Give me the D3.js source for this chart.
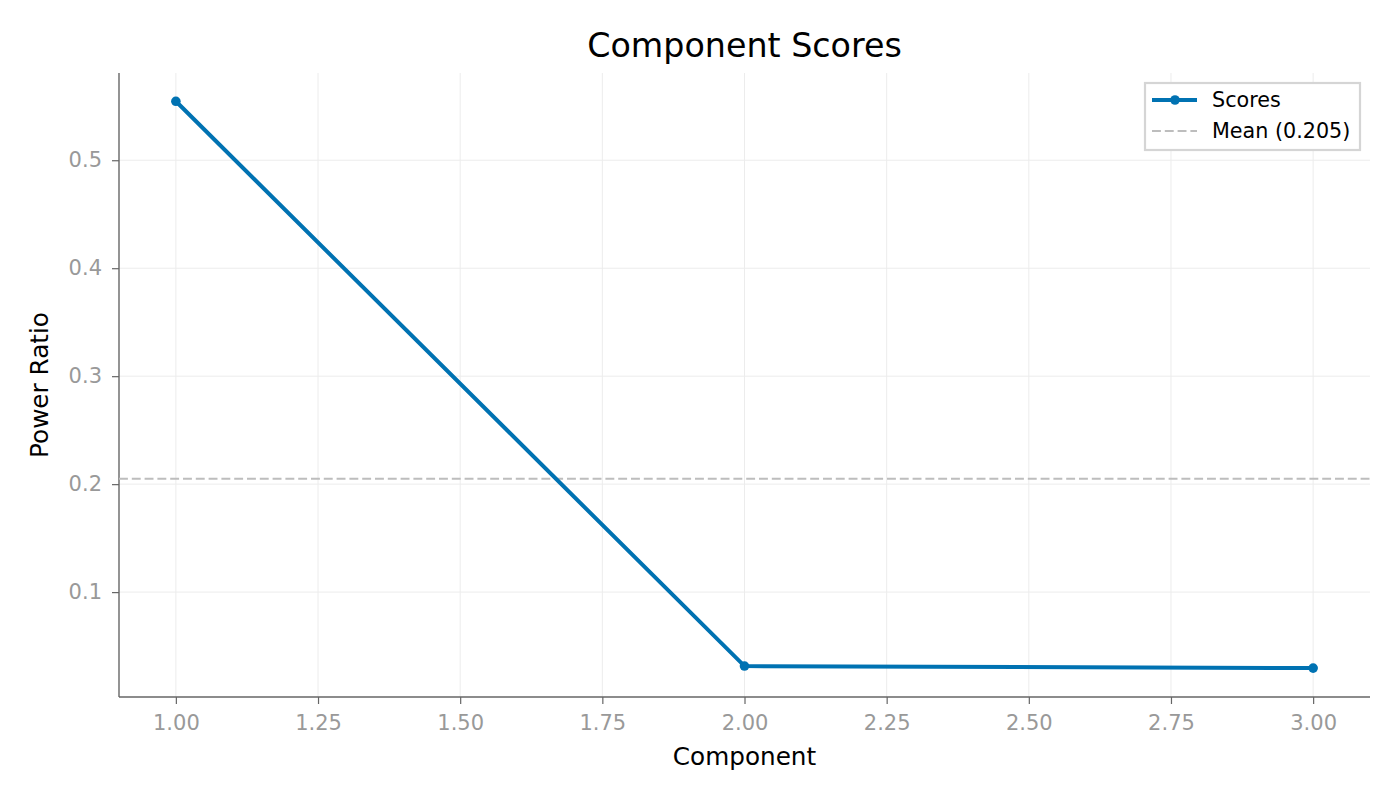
<!DOCTYPE html>
<html lang="en">
<head>
    <meta charset="UTF-8">
    <script src="https://cdn.jsdelivr.net/npm/d3@7"></script>
    <title>Component Scores</title>
    <style>
        body { margin: 0; background: white; }
        text { font-family: "DejaVu Sans", sans-serif; }
        .tick text { fill: #999; font-size: 21px; font-family: "DejaVu Sans", sans-serif; }
        .tick line { stroke: #666; stroke-width: 1.2px; }
        .domain { stroke: #666; stroke-width: 1.4px; }
        .grid line { stroke: #ececec; stroke-width: 1px; }
    </style>
</head>
<body>
    <div class="fig"></div>
    <script>
        // data
        const components = [1, 2, 3];
        const scores = [0.5546, 0.0315, 0.0296];
        const meanValue = 0.205;
        const xTicks = [1.00, 1.25, 1.50, 1.75, 2.00, 2.25, 2.50, 2.75, 3.00];
        const yTicks = [0.1, 0.2, 0.3, 0.4, 0.5];
        const legendLabels = ["Scores", "Mean (0.205)"];

        const width = 1400, height = 800;
        const margin = { top: 73, right: 30, bottom: 103, left: 119 };
        const blue = "#0072B2";

        const svg = d3.select(".fig").append("svg")
            .attr("width", width)
            .attr("height", height);

        const x = d3.scaleLinear()
            .domain([0.9, 3.1])
            .range([margin.left, width - margin.right]);

        const y = d3.scaleLinear()
            .domain([0.00285, 0.5808])
            .range([height - margin.bottom, margin.top]);

        // grid
        const grid = svg.append("g").attr("class", "grid");
        grid.selectAll(".gx").data(xTicks).enter().append("line")
            .attr("x1", d => x(d)).attr("x2", d => x(d))
            .attr("y1", margin.top).attr("y2", height - margin.bottom);
        grid.selectAll(".gy").data(yTicks).enter().append("line")
            .attr("x1", margin.left).attr("x2", width - margin.right)
            .attr("y1", d => y(d)).attr("y2", d => y(d));

        // axes
        svg.append("g")
            .attr("transform", `translate(0,${height - margin.bottom})`)
            .call(d3.axisBottom(x).tickValues(xTicks).tickFormat(d3.format(".2f")).tickSize(7).tickPadding(11))
            .call(g => g.select(".domain").attr("d", `M${margin.left},0H${width - margin.right}`));

        svg.append("g")
            .attr("transform", `translate(${margin.left},0)`)
            .call(d3.axisLeft(y).tickValues(yTicks).tickFormat(d3.format(".1f")).tickSize(7).tickPadding(10))
            .call(g => g.select(".domain").attr("d", `M0,${margin.top}V${height - margin.bottom}`));

        // mean line
        svg.append("line")
            .attr("x1", margin.left).attr("x2", width - margin.right)
            .attr("y1", y(meanValue)).attr("y2", y(meanValue))
            .attr("stroke", "#bdbdbd")
            .attr("stroke-width", 2.2)
            .attr("stroke-dasharray", "8.9,3.9");

        // score line
        const line = d3.line()
            .x((d, i) => x(components[i]))
            .y(d => y(d));

        svg.append("path")
            .datum(scores)
            .attr("d", line)
            .attr("fill", "none")
            .attr("stroke", blue)
            .attr("stroke-width", 4);

        svg.selectAll(".pt")
            .data(scores)
            .enter()
            .append("circle")
            .attr("cx", (d, i) => x(components[i]))
            .attr("cy", d => y(d))
            .attr("r", 4.8)
            .attr("fill", blue);

        // title and labels
        svg.append("text")
            .attr("x", (margin.left + width - margin.right) / 2)
            .attr("y", 57)
            .attr("text-anchor", "middle")
            .style("font-size", "33.3px")
            .text("Component Scores");

        svg.append("text")
            .attr("x", (margin.left + width - margin.right) / 2)
            .attr("y", 765)
            .attr("text-anchor", "middle")
            .style("font-size", "24.7px")
            .text("Component");

        svg.append("text")
            .attr("transform", `translate(48,${(margin.top + height - margin.bottom) / 2}) rotate(-90)`)
            .attr("text-anchor", "middle")
            .style("font-size", "24.7px")
            .text("Power Ratio");

        // legend
        const lg = svg.append("g").attr("transform", "translate(1145,83)");
        lg.append("rect")
            .attr("width", 215).attr("height", 67)
            .attr("fill", "white")
            .attr("stroke", "#d5d5d5")
            .attr("stroke-width", 2.2);

        lg.append("line")
            .attr("x1", 7).attr("x2", 52).attr("y1", 17).attr("y2", 17)
            .attr("stroke", blue).attr("stroke-width", 4);
        lg.append("circle")
            .attr("cx", 30).attr("cy", 17).attr("r", 4.8).attr("fill", blue);

        lg.append("line")
            .attr("x1", 7).attr("x2", 52).attr("y1", 48).attr("y2", 48)
            .attr("stroke", "#bdbdbd").attr("stroke-width", 2.2)
            .attr("stroke-dasharray", "8.9,3.9");

        lg.selectAll(".lt")
            .data(legendLabels)
            .enter()
            .append("text")
            .attr("x", 67)
            .attr("y", (d, i) => 24 + i * 31)
            .style("font-size", "20.7px")
            .text(d => d);
    </script>
</body>
</html>
